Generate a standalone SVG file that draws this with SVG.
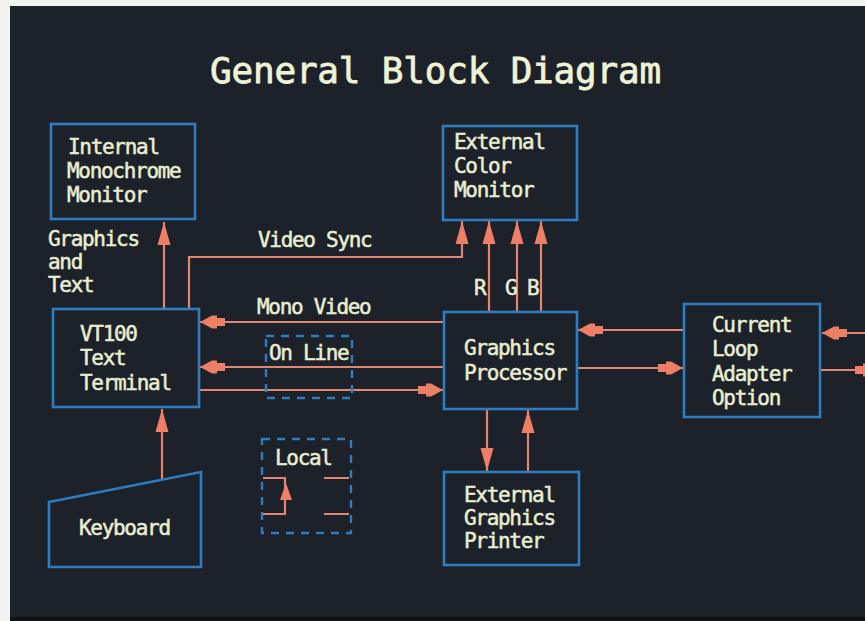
<svg xmlns="http://www.w3.org/2000/svg" width="865" height="621" viewBox="0 0 865 621">
<style>
.bg{fill:#1d2129}
.box{fill:none;stroke:#2f7dc0;stroke-width:2.6}
.dash{fill:none;stroke:#2f7dc0;stroke-width:2.4;stroke-dasharray:8 7}
.ln{fill:none;stroke:#e08672;stroke-width:2.2}
.t{font-family:"DejaVu Sans Mono","Liberation Mono",monospace;font-size:21px;letter-spacing:-1.3px;fill:#e9eed2;stroke:#e9eed2;stroke-width:0.5}
.title{font-family:"DejaVu Sans Mono","Liberation Mono",monospace;font-size:36px;letter-spacing:-0.2px;fill:#eef2d6;stroke:#eef2d6;stroke-width:0.8}
.ah{fill:#ee7f66}
</style>
<defs>
<marker id="bul" markerUnits="userSpaceOnUse" viewBox="-26 -7 27 14" markerWidth="27" markerHeight="14" refX="0" refY="0" orient="auto">
<path class="ah" d="M0,0 L-12,-6.5 L-17,-6.5 L-17,-4 L-25,-4 L-25,4 L-17,4 L-17,6.5 L-12,6.5 Z"/>
</marker>
<marker id="tri" markerUnits="userSpaceOnUse" viewBox="-24 -7 25 14" markerWidth="25" markerHeight="14" refX="0" refY="0" orient="auto">
<path class="ah" d="M0,0 L-23,-6.5 L-23,6.5 Z"/>
</marker>
</defs>
<rect x="0" y="0" width="865" height="621" fill="#f2f2f0"/>
<rect class="bg" x="10" y="6" width="855" height="612"/>
<rect x="10" y="617" width="855" height="4" fill="#101215"/>
<text class="title" x="210" y="83">General Block Diagram</text>

<g id="connectors">
<path class="ln" d="M164,309 V222" marker-end="url(#tri)"/>
<path class="ln" d="M189,309 V257 H462 V221" marker-end="url(#tri)"/>
<path class="ln" d="M489,312 V221" marker-end="url(#tri)"/>
<path class="ln" d="M517,312 V221" marker-end="url(#tri)"/>
<path class="ln" d="M541,312 V221" marker-end="url(#tri)"/>
<path class="ln" d="M444,322 H200" marker-end="url(#bul)"/>
<path class="ln" d="M444,367 H200" marker-end="url(#bul)"/>
<path class="ln" d="M199,390 H443" marker-end="url(#bul)"/>
<path class="ln" d="M684,330 H578" marker-end="url(#bul)"/>
<path class="ln" d="M577,368 H683" marker-end="url(#bul)"/>
<path class="ln" d="M865,333 H822" marker-end="url(#bul)"/>
<path class="ln" d="M820,370 H880" marker-end="url(#bul)"/>
<path class="ln" d="M487,409 V471" marker-end="url(#tri)"/>
<path class="ln" d="M528,472 V410" marker-end="url(#tri)"/>
<path class="ln" d="M162,480 V409" marker-end="url(#tri)"/>
</g>

<g id="internal-monitor">
<rect class="box" x="51" y="124" width="144" height="95"/>
<text class="t" x="68" y="154">Internal</text>
<text class="t" x="67" y="178">Monochrome</text>
<text class="t" x="67" y="202">Monitor</text>
</g>
<g id="graphics-text-label">
<text class="t" x="48" y="246">Graphics</text>
<text class="t" x="48" y="269">and</text>
<text class="t" x="48" y="292">Text</text>
</g>
<text class="t" x="258" y="247">Video Sync</text>
<text class="t" x="257" y="314">Mono Video</text>
<text class="t" x="474" y="295">R</text>
<text class="t" x="505" y="295">G</text>
<text class="t" x="527" y="295">B</text>

<g id="color-monitor">
<rect class="box" x="443" y="126" width="134" height="94"/>
<text class="t" x="454" y="149">External</text>
<text class="t" x="454" y="173">Color</text>
<text class="t" x="454" y="197">Monitor</text>
</g>
<g id="vt100">
<rect class="box" x="53" y="309" width="146" height="98"/>
<text class="t" x="80" y="341">VT100</text>
<text class="t" x="80" y="365">Text</text>
<text class="t" x="80" y="390">Terminal</text>
</g>
<g id="online">
<rect class="dash" x="266" y="336" width="86" height="62"/>
<text class="t" x="269" y="360">On Line</text>
</g>
<g id="local">
<rect class="dash" x="262" y="439" width="89" height="94"/>
<text class="t" x="275" y="465">Local</text>
<path class="ln" d="M263,478 H285 V514 H263"/>
<path class="ln" d="M324,478 H349 M324,514 H349"/>
<polygon class="ah" points="286,483 280,500 292,500"/>
</g>
<g id="keyboard">
<polygon class="box" points="49,502 201,472 201,567 49,567"/>
<text class="t" x="79" y="535">Keyboard</text>
</g>
<g id="graphics-processor">
<rect class="box" x="444" y="312" width="133" height="97"/>
<text class="t" x="464" y="355">Graphics</text>
<text class="t" x="464" y="380">Processor</text>
</g>
<g id="printer">
<rect class="box" x="444" y="472" width="135" height="93"/>
<text class="t" x="464" y="502">External</text>
<text class="t" x="464" y="525">Graphics</text>
<text class="t" x="464" y="548">Printer</text>
</g>
<g id="current-loop">
<rect class="box" x="684" y="304" width="136" height="113"/>
<text class="t" x="712" y="332">Current</text>
<text class="t" x="712" y="356">Loop</text>
<text class="t" x="712" y="381">Adapter</text>
<text class="t" x="712" y="405">Option</text>
</g>
</svg>
